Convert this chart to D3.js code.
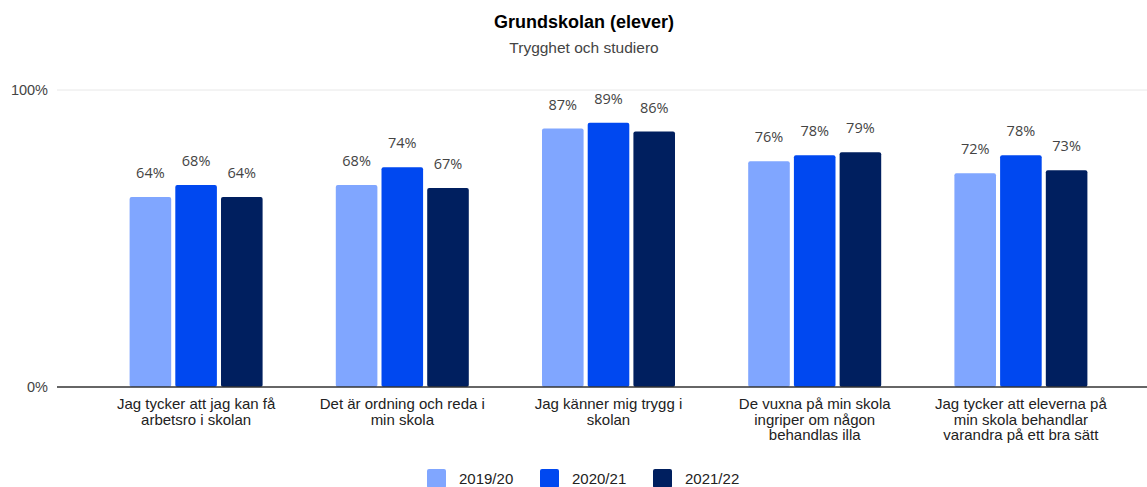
<!doctype html>
<html>
<head>
<meta charset="utf-8">
<script src="https://d3js.org/d3.v7.min.js"></script>
<style>
  body { margin: 0; background: #fff; }
  text { font-family: "Liberation Sans", Arial, sans-serif; }
</style>
</head>
<body>
<script>
// ---- data ----
var categories = [
  "Jag tycker att jag kan få arbetsro i skolan",
  "Det är ordning och reda i min skola",
  "Jag känner mig trygg i skolan",
  "De vuxna på min skola ingriper om någon behandlas illa",
  "Jag tycker att eleverna på min skola behandlar varandra på ett bra sätt"
];
var seriesNames = ["2019/20", "2020/21", "2021/22"];
var values2019 = [64, 68, 87, 76, 72];
var values2020 = [68, 74, 89, 78, 78];
var values2021 = [64, 67, 86, 79, 73];
var yTicks = [0, 100];

var colors = ["#80a6ff", "#0048f0", "#001f5f"];
var allValues = [values2019, values2020, values2021];

var width = 1147, height = 487;
var margin = {left: 57, right: 0, top: 90, bottom: 100};

var svg = d3.select("body").append("svg")
  .attr("width", width)
  .attr("height", height);

// title
svg.append("text")
  .attr("x", 584).attr("y", 28)
  .attr("text-anchor", "middle")
  .style("font-size", "18px").style("font-weight", "bold").style("fill", "#000")
  .text("Grundskolan (elever)");
svg.append("text")
  .attr("x", 584).attr("y", 53)
  .attr("text-anchor", "middle")
  .style("font-size", "15.5px").style("fill", "#444")
  .text("Trygghet och studiero");

var y = d3.scaleLinear().domain([0, 100]).range([387, 90]);
var x0 = d3.scaleBand().domain(d3.range(categories.length)).range([93, 1124]).paddingInner(0.355).paddingOuter(0.1775);
var x1 = d3.scaleBand().domain(d3.range(seriesNames.length)).range([0, x0.bandwidth()]).paddingInner(0.09);

// gridline at 100%
svg.append("line")
  .attr("x1", margin.left).attr("x2", width)
  .attr("y1", y(100)).attr("y2", y(100))
  .style("stroke", "#e8e8e8").style("stroke-width", 1);

// y tick labels
svg.selectAll(".ytick").data(yTicks).enter().append("text")
  .attr("class", "ytick")
  .attr("x", 48).attr("y", function(d) { return y(d) + 5; })
  .attr("text-anchor", "end")
  .style("font-size", "14.5px").style("fill", "#444")
  .text(function(d) { return d + "%"; });

// bars
var groups = svg.selectAll(".grp").data(categories).enter().append("g")
  .attr("class", "grp")
  .attr("transform", function(d, i) { return "translate(" + x0(i) + ",0)"; });

groups.each(function(c, ci) {
  var g = d3.select(this);
  seriesNames.forEach(function(s, si) {
    var v = allValues[si][ci];
    g.append("rect")
      .attr("x", x1(si)).attr("width", x1.bandwidth())
      .attr("y", y(v)).attr("height", y(0) - y(v))
      .attr("rx", 2)
      .style("fill", colors[si]);
    g.append("text")
      .attr("x", x1(si) + x1.bandwidth() / 2)
      .attr("y", y(v) - 19)
      .attr("text-anchor", "middle")
      .style("font-family", "'Open Sans', sans-serif")
      .style("font-size", "14.5px").style("fill", "#444")
      .text(v + "%");
  });
});

// baseline
svg.append("line")
  .attr("x1", margin.left).attr("x2", width)
  .attr("y1", y(0)).attr("y2", y(0))
  .style("stroke", "#333").style("stroke-width", 1.5);

// x labels (wrapped)
var xl = svg.selectAll(".xlab").data(categories).enter().append("text")
  .attr("class", "xlab")
  .attr("text-anchor", "middle")
  .style("font-size", "15px").style("fill", "#222")
  .attr("transform", function(d, i) { return "translate(" + (x0(i) + x0.bandwidth() / 2) + ",409)"; });

xl.each(function(d) {
  var t = d3.select(this);
  var words = d.split(" "), line = [];
  var ts = t.append("tspan").attr("x", 0).attr("dy", 0);
  words.forEach(function(w) {
    line.push(w);
    ts.text(line.join(" "));
    if (ts.node().getComputedTextLength() > 184 && line.length > 1) {
      line.pop();
      ts.text(line.join(" "));
      line = [w];
      ts = t.append("tspan").attr("x", 0).attr("dy", 15.5).text(w);
    }
  });
});

// legend
var legendX = [427, 540, 653];
var lg = svg.selectAll(".leg").data(seriesNames).enter().append("g")
  .attr("class", "leg")
  .attr("transform", function(d, i) { return "translate(" + legendX[i] + ",469)"; });
lg.append("rect").attr("width", 19).attr("height", 19).attr("rx", 2)
  .style("fill", function(d, i) { return colors[i]; });
lg.append("text").attr("x", 32).attr("y", 15)
  .style("font-size", "15px").style("fill", "#222")
  .text(function(d) { return d; });
</script>
</body>
</html>
